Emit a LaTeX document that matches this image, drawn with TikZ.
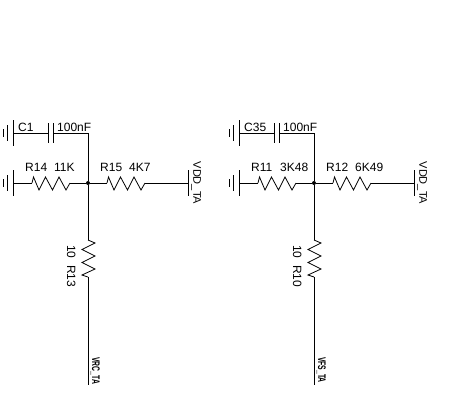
\documentclass[tikz,border=0pt]{standalone}
\usepackage{fontspec}
\setmainfont{Liberation Sans}
\tikzset{
  wire/.style={line width=0.8pt},
  lbl/.style={inner sep=0pt, font=\fontsize{12}{12}\selectfont},
  vlbl/.style={lbl, rotate=-90},
  dot/.style={circle, fill=black, inner sep=0pt, minimum size=4pt}
}
% horizontal resistor between two named points
\newcommand{\hres}[2]{\draw[wire] (#1) -- ++(1.5,-6) -- ++(5.5,13) -- ++(6.5,-13) -- ++(7,13) -- ++(6.5,-13) -- ++(7,13) -- (#2);}
\newcommand{\gnd}[1]{
  \draw[wire] (#1)++(0,-13) -- ++(0,26);
  \draw[wire] (#1)++(-5.5,-8) -- ++(0,16);
  \draw[wire] (#1)++(-10,-4) -- ++(0,8);
}
\begin{document}
\begin{tikzpicture}[x=1pt,y=-1pt]
  \useasboundingbox (0,0) rectangle (450,413);
  \foreach \p/\sx/\cn/\ln/\lv/\rn/\rv/\vn/\vr/\sig in
    {a/0/C1/R14/11K/R15/4K7/10/R13/VRC_TA,
     b/226/C35/R11/3K48/R12/6K49/10/R10/VFS_TA}{
    \begin{scope}[xshift=\sx pt]
    \coordinate (\p gc) at (13,133);
    \coordinate (\p gr) at (13,183);
    \coordinate (\p pl) at (48,133);
    \coordinate (\p pr) at (53,133);
    \coordinate (\p top) at (88,133);
    \node[dot] (\p j) at (88,183) {};
    \coordinate (\p ls) at (32,183);
    \coordinate (\p le) at (70,183);
    \coordinate (\p rs) at (107,183);
    \coordinate (\p re) at (145,183);
    \coordinate (\p vdd) at (188.6,183);
    \coordinate (\p vs) at (88,240);
    \coordinate (\p ve) at (88,277);
    \coordinate (\p out) at (88,385);
    \gnd{\p gc}
    \gnd{\p gr}
    \draw[wire] (\p gc) -- (\p pl);
    \draw[wire] (\p pl)++(0,-10) -- ++(0,20);
    \draw[wire] (\p pr)++(0,-10) -- ++(0,20);
    \draw[wire] (\p pr) -- (\p top) -- (\p j);
    \draw[wire] (\p gr) -- (\p ls);
    \hres{\p ls}{\p le}
    \draw[wire] (\p le) -- (\p j) -- (\p rs);
    \hres{\p rs}{\p re}
    \draw[wire] (\p re) -- (\p vdd);
    \draw[wire] (\p vdd)++(0,-13) -- ++(0,26);
    \draw[wire] (\p j) -- (\p vs);
    \draw[wire] (\p vs) -- ++(7,3) -- ++(-13,6.5) -- ++(13,6.5) -- ++(-13,6.5) -- ++(13,6.5) -- ++(-13,6) -- (\p ve);
    \draw[wire] (\p ve) -- (\p out);
    \node[lbl, anchor=base west] (\p cn) at (18,131.5) {\cn};
    \node[lbl, anchor=base west] (\p cv) at (57,131.5) {100nF};
    \node[lbl, anchor=base west] (\p ln) at (25,171.5) {\ln};
    \node[lbl, anchor=base west] (\p lv) at (54,171.5) {\lv};
    \node[lbl, anchor=base west] (\p rn) at (100,171.5) {\rn};
    \node[lbl, anchor=base west] (\p rv) at (129,171.5) {\rv};
    \node[vlbl, anchor=base, font=\fontsize{11}{11}\selectfont] (\p vv) at (193.4,183) {VDD\_TA};
    \node[vlbl, anchor=base west] (\p vn) at (67,245) {\vn\ \ \vr};
    \node[vlbl, anchor=base west, font=\fontsize{11}{11}\selectfont\bfseries] (\p sg) at (92,357) {\scalebox{0.62}[1]{\detokenize\expandafter{\sig}}};
    \end{scope}
  }
\end{tikzpicture}
\end{document}
